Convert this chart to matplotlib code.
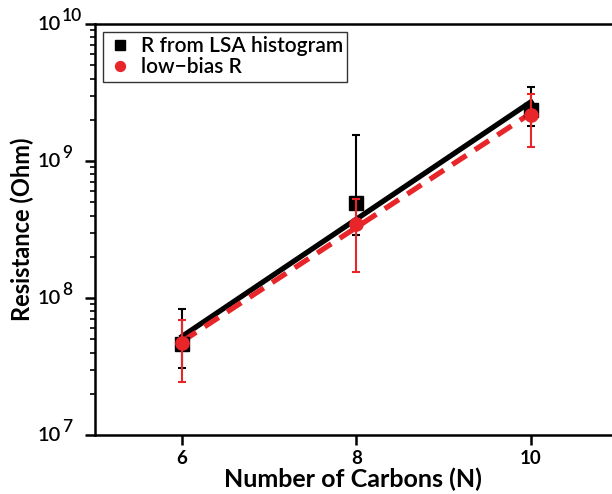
import numpy as np
import matplotlib
matplotlib.use("Agg")
from matplotlib import pyplot as plt
import matplotlib.ticker as tck

plt.rcParams['font.family'] = ['Lato', 'DejaVu Sans']

# data
n_carbons = np.array([6, 8, 10])
r_lsa = np.array([4.6e7, 4.9e8, 2.37e9])
r_lsa_lo = np.array([3.1e7, 2.9e8, 1.81e9])
r_lsa_hi = np.array([8.3e7, 1.56e9, 3.48e9])
r_lowbias = np.array([4.7e7, 3.45e8, 2.18e9])
r_lowbias_lo = np.array([2.43e7, 1.54e8, 1.27e9])
r_lowbias_hi = np.array([6.9e7, 5.3e8, 3.1e9])

ytick_exps = [7, 8, 9, 10]

red = '#e8262a'

fig = plt.figure(figsize=(6.12, 4.94), dpi=100)
ax = fig.add_axes([0.155, 0.1194, 0.845, 0.832])

# exponential fits (linear in log10 R)
xf = np.array([6, 10])
p_lsa = np.polyfit(n_carbons, np.log10(r_lsa), 1)
p_lb = np.polyfit(n_carbons, np.log10(r_lowbias), 1)
ax.plot(xf, 10**np.polyval(p_lsa, xf), '-', color='black', linewidth=3.8, zorder=2)
ax.plot(xf, 10**np.polyval(p_lb, xf), '--', color=red, linewidth=3.8,
        dashes=(3.2, 1.9), zorder=3)

ax.errorbar(n_carbons, r_lsa, yerr=[r_lsa - r_lsa_lo, r_lsa_hi - r_lsa],
            fmt='s', color='black', markersize=9.5, elinewidth=1.5, capsize=2.8,
            capthick=1.5, label='R from LSA histogram', zorder=4)
ax.errorbar(n_carbons, r_lowbias, yerr=[r_lowbias - r_lowbias_lo, r_lowbias_hi - r_lowbias],
            fmt='o', color=red, markersize=9.5, elinewidth=1.5, capsize=2.8,
            capthick=1.5, label='low\u2212bias R', zorder=5)

ax.set_yscale('log')
ax.set_ylim(1e7, 1e10)
ax.set_yticks([10.0**e for e in ytick_exps])
ax.yaxis.set_major_formatter(tck.NullFormatter())
ax.yaxis.set_minor_formatter(tck.NullFormatter())

# power-of-ten labels with a large exponent, as in the original
ytrans = ax.get_yaxis_transform()
for e in ytick_exps:
    ax.annotate('10', xy=(0, 10.0**e), xycoords=ytrans, xytext=(-24.5, 0),
                textcoords='offset points', ha='right', va='center',
                fontsize=14.5, fontweight='semibold', annotation_clip=False)
    ax.annotate(str(e), xy=(0, 10.0**e), xycoords=ytrans, xytext=(-23.6, 0),
                textcoords='offset points', ha='left', va='bottom',
                fontsize=12.5, fontweight='semibold', annotation_clip=False)

ax.set_xlim(5, 10.93)
ax.set_xticks([6, 8, 10])
ax.set_xticklabels(['6', '8', '10'], fontsize=13.5, fontweight='bold')
ax.spines['right'].set_visible(False)
for s in ['left', 'bottom', 'top']:
    ax.spines[s].set_linewidth(1.8)
ax.tick_params(which='major', length=7, width=1.8)
ax.tick_params(which='minor', length=3.5, width=1.2)
ax.tick_params(axis='x', which='minor', bottom=False)

ax.set_xlabel('Number of Carbons (N)', fontsize=18, fontweight='bold', labelpad=1)
ax.set_ylabel('Resistance (Ohm)', fontsize=17, fontweight='bold')
ax.yaxis.set_label_coords(-0.118, 0.5)

handles, labels = ax.get_legend_handles_labels()
handles = [h[0] for h in handles]
leg = ax.legend(handles, labels, loc='upper left', frameon=True, markerscale=0.75,
                prop={'size': 15, 'weight': 'semibold'},
                fancybox=False, edgecolor='black', handletextpad=0.4,
                handlelength=1.2, borderpad=0.2, labelspacing=0.05,
                borderaxespad=0, bbox_to_anchor=(0.016, 0.98))
leg.get_frame().set_linewidth(1.0)

fig.savefig('out.png', dpi=100)
